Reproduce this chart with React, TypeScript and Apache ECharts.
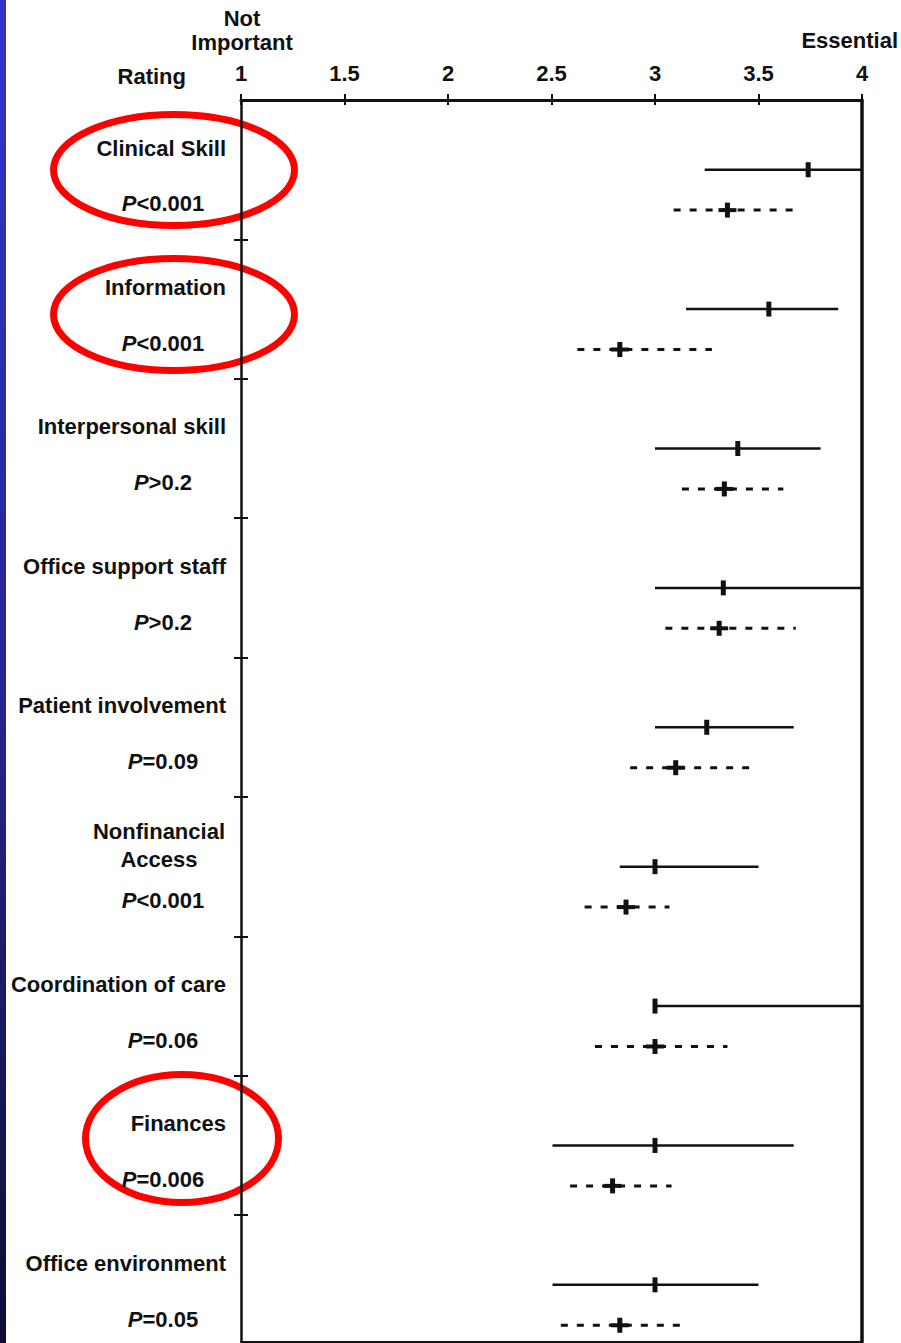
import React, { useEffect, useRef } from "react";
import * as echarts from "echarts";

// Practice factors, top to bottom
const factors = [
  "Clinical Skill",
  "Information",
  "Interpersonal skill",
  "Office support staff",
  "Patient involvement",
  "Nonfinancial\nAccess",
  "Coordination of care",
  "Finances",
  "Office environment",
];
const pValues = ["<0.001", "<0.001", ">0.2", ">0.2", "=0.09", "<0.001", "=0.06", "=0.006", "=0.05"];

// Solid group: lower end, mean, upper end of the rating range
const solidLow = [3.24, 3.15, 3.0, 3.0, 3.0, 2.83, 3.0, 2.505, 2.505];
const solidMean = [3.74, 3.55, 3.4, 3.33, 3.25, 3.0, 3.0, 3.0, 3.0];
const solidHigh = [4.0, 3.885, 3.8, 4.0, 3.67, 3.5, 4.0, 3.67, 3.5];

// Dashed group: lower end, mean, upper end of the rating range
const dashedLow = [3.09, 2.625, 3.13, 3.05, 2.88, 2.66, 2.71, 2.59, 2.545];
const dashedMean = [3.35, 2.83, 3.335, 3.31, 3.1, 2.86, 3.0, 2.795, 2.83];
const dashedHigh = [3.69, 3.275, 3.62, 3.68, 3.46, 3.07, 3.35, 3.08, 3.157];

// Rating scale
const ratingTicks = [1, 1.5, 2, 2.5, 3, 3.5, 4];
const ratingTickLabels = ["1", "1.5", "2", "2.5", "3", "3.5", "4"];
const scaleLowLabel = "Not\nImportant";
const scaleHighLabel = "Essential";
const scaleTitle = "Rating";

const FONT = "'Liberation Sans', Arial, Helvetica, sans-serif";
const INK = "#111111";
const ROWS_VISIBLE = 8.91;

export default function App() {
  const ref = useRef<HTMLDivElement>(null);

  useEffect(() => {
    if (!ref.current) return;
    const chart = echarts.init(ref.current, undefined, { renderer: "svg" });

    const rowBounds = factors.map((_, i) => i).slice(1);
    const solidData = factors.map((_, i) => [i, solidLow[i], solidMean[i], solidHigh[i]]);
    const dashedData = factors.map((_, i) => [i, dashedLow[i], dashedMean[i], dashedHigh[i]]);
    const labelData = factors.map((_, i) => [ratingTicks[0], i]);

    // One range line per item with its mean marker
    const rangeRenderer = (offset: number, dashed: boolean) => (params: any, api: any) => {
      const row = api.value(0);
      const lo = api.coord([api.value(1), row + offset]);
      const mid = api.coord([api.value(2), row + offset]);
      const hi = api.coord([api.value(3), row + offset]);
      const children: any[] = [
        {
          type: "line",
          shape: { x1: lo[0], y1: lo[1], x2: hi[0], y2: hi[1] },
          style: {
            stroke: INK,
            lineWidth: dashed ? 3 : 2.5,
            lineDash: dashed ? [7, 9] : null,
          },
        },
        {
          type: "rect",
          shape: { x: mid[0] - 2.5, y: mid[1] - 7.5, width: 5, height: 15 },
          style: { fill: INK },
        },
      ];
      if (dashed) {
        children.push({
          type: "rect",
          shape: { x: mid[0] - 9, y: mid[1] - 2, width: 18, height: 4 },
          style: { fill: INK },
        });
      }
      return { type: "group", children };
    };

    const textBase = {
      fontFamily: FONT,
      fontWeight: "bold",
      fontSize: 22,
      fill: INK,
    };

    // Factor name and P value to the left of the rating axis
    const labelRenderer = (params: any, api: any) => {
      const row = api.value(1);
      const name = factors[params.dataIndex];
      const p = pValues[params.dataIndex];
      const nameAt = api.coord([api.value(0), row + 0.345]);
      const pAt = api.coord([api.value(0), row + 0.745]);
      const multi = name.indexOf("\n") >= 0;
      return {
        type: "group",
        children: [
          {
            type: "text",
            style: {
              ...textBase,
              text: name,
              x: multi ? nameAt[0] - 82 : nameAt[0] - 15,
              y: nameAt[1],
              align: multi ? "center" : "right",
              verticalAlign: "middle",
              lineHeight: 28,
            },
          },
          {
            type: "text",
            style: {
              ...textBase,
              text: `{i|P}{n|${p}}`,
              x: pAt[0] - 78,
              y: pAt[1],
              align: "center",
              verticalAlign: "middle",
              rich: {
                i: { fontFamily: FONT, fontWeight: "bold", fontStyle: "italic", fontSize: 22, fill: INK, color: INK },
                n: { fontFamily: FONT, fontWeight: "bold", fontSize: 22, fill: INK, color: INK },
              },
            },
          },
        ],
      };
    };

    const ratingAxisBase = {
      type: "value",
      min: ratingTicks[0],
      max: ratingTicks[ratingTicks.length - 1],
      interval: ratingTicks[1] - ratingTicks[0],
      splitLine: { show: false },
      z: 10,
    };
    const rowAxisBase = {
      type: "value",
      inverse: true,
      min: 0,
      max: ROWS_VISIBLE,
      splitLine: { show: false },
      axisLabel: { show: false },
      z: 10,
    };

    chart.setOption({
      animation: false,
      backgroundColor: "#ffffff",
      grid: { left: 241, right: 39, top: 100, bottom: 1, containLabel: false },
      xAxis: [
        {
          ...ratingAxisBase,
          position: "top",
          axisLine: { show: true, onZero: false, lineStyle: { color: INK, width: 3 } },
          axisTick: { show: true, inside: false, length: 6, lineStyle: { color: INK, width: 2 } },
          axisLabel: {
            show: true,
            margin: 16,
            color: INK,
            fontFamily: FONT,
            fontWeight: "bold",
            fontSize: 22,
            formatter: (v: number) => ratingTickLabels[ratingTicks.indexOf(v)] ?? String(v),
          },
        },
        {
          ...ratingAxisBase,
          position: "top",
          axisLine: { show: false, onZero: false },
          axisTick: { show: true, inside: true, length: 5, lineStyle: { color: INK, width: 2 } },
          axisLabel: { show: false },
        },
        {
          ...ratingAxisBase,
          position: "bottom",
          axisLine: { show: true, onZero: false, lineStyle: { color: INK, width: 2 } },
          axisTick: { show: false },
          axisLabel: { show: false },
        },
      ],
      yAxis: [
        {
          ...rowAxisBase,
          position: "left",
          axisLine: { show: true, onZero: false, lineStyle: { color: INK, width: 2.5 } },
          axisTick: { show: true, inside: false, length: 7, customValues: rowBounds, lineStyle: { color: INK, width: 2 } },
        },
        {
          ...rowAxisBase,
          position: "left",
          axisLine: { show: false, onZero: false },
          axisTick: { show: true, inside: true, length: 7, customValues: rowBounds, lineStyle: { color: INK, width: 2 } },
        },
        {
          ...rowAxisBase,
          position: "right",
          axisLine: { show: true, onZero: false, lineStyle: { color: INK, width: 3.5 } },
          axisTick: { show: false },
        },
      ],
      series: [
        {
          type: "custom",
          name: "solid",
          xAxisIndex: 0,
          yAxisIndex: 0,
          encode: { x: [1, 2, 3], y: 0 },
          data: solidData,
          renderItem: rangeRenderer(0.5, false),
          clip: false,
          z: 10,
        },
        {
          type: "custom",
          name: "dashed",
          xAxisIndex: 0,
          yAxisIndex: 0,
          encode: { x: [1, 2, 3], y: 0 },
          data: dashedData,
          renderItem: rangeRenderer(0.79, true),
          clip: false,
          z: 10,
        },
        {
          type: "custom",
          name: "labels",
          xAxisIndex: 0,
          yAxisIndex: 0,
          encode: { x: 0, y: 1 },
          data: labelData,
          renderItem: labelRenderer,
          clip: false,
          z: 12,
        },
      ],
      graphic: [
        {
          type: "rect",
          shape: { x: 0, y: 0, width: 6, height: 1343 },
          style: {
            fill: new echarts.graphic.LinearGradient(0, 0, 0, 1, [
              { offset: 0, color: "#3434c8" },
              { offset: 0.5, color: "#262690" },
              { offset: 1, color: "#0d0d38" },
            ]),
          },
          z: 0,
        },
        {
          type: "text",
          style: { ...textBase, text: scaleLowLabel, x: 242, y: 30, align: "center", verticalAlign: "middle", lineHeight: 24 },
          z: 5,
        },
        {
          type: "text",
          style: { ...textBase, text: scaleHighLabel, x: 898, y: 40, align: "right", verticalAlign: "middle" },
          z: 5,
        },
        {
          type: "text",
          style: { ...textBase, text: scaleTitle, x: 186, y: 76, align: "right", verticalAlign: "middle" },
          z: 5,
        },
        {
          type: "ellipse",
          shape: { cx: 174, cy: 170, rx: 120.5, ry: 55.5 },
          style: { fill: "none", stroke: "#ff0000", lineWidth: 7 },
          z: 1,
        },
        {
          type: "ellipse",
          shape: { cx: 174, cy: 314.5, rx: 120.5, ry: 56 },
          style: { fill: "none", stroke: "#ff0000", lineWidth: 7 },
          z: 1,
        },
        {
          type: "ellipse",
          shape: { cx: 182, cy: 1138.5, rx: 96.5, ry: 64 },
          style: { fill: "none", stroke: "#ff0000", lineWidth: 7 },
          z: 1,
        },
      ],
    });

    return () => chart.dispose();
  }, []);

  return (
    <div
      ref={ref}
      style={{ position: "absolute", left: 0, top: 0, width: 901, height: 1343, background: "#ffffff" }}
    />
  );
}
